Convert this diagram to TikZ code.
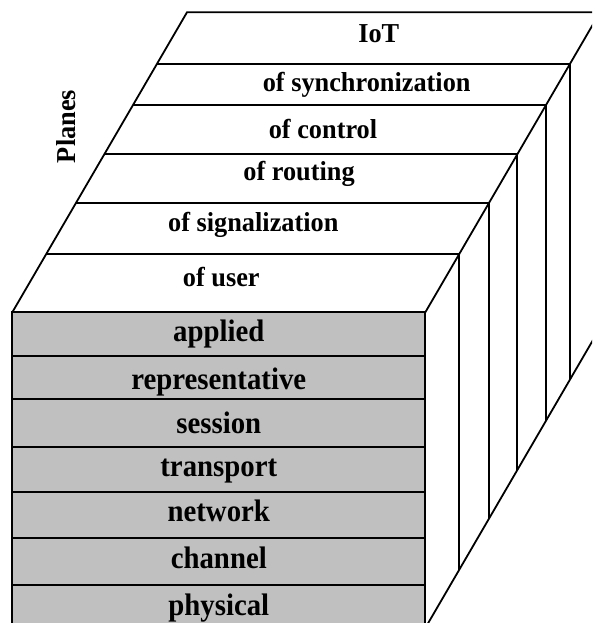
\documentclass[tikz,border=0pt]{standalone}
\usepackage{fontspec}
\setmainfont{Liberation Serif}
\definecolor{facegray}{RGB}{192,192,192}
\newcommand{\toptxt}[1]{\scalebox{1}[1.04]{#1}}
\newcommand{\fronttxt}[1]{\scalebox{1}[1.08]{#1}}
\begin{document}
\begin{tikzpicture}[x=1pt,y=-1pt,
  edge/.style={line width=1.8pt, line join=miter, line cap=butt},
  toplabel/.style={font=\fontsize{26.3}{26.3}\selectfont\bfseries, anchor=base, inner sep=0pt},
  frontlabel/.style={font=\fontsize{28.8}{28.8}\selectfont\bfseries, anchor=base, inner sep=0pt}]
\useasboundingbox (0,0) rectangle (592,623);
\fill[white] (0,0) rectangle (592,623);
\clip (0,0) rectangle (592,623);
% front face corners
\coordinate (FTL) at (12.3,312.3);
\coordinate (FTR) at (425.3,312.3);
\coordinate (FBL) at (12.3,628);
\coordinate (FBR) at (425.3,628);
% back corners
\coordinate (BTL) at (187,12.3);
\coordinate (BTR) at (600,12.3);
\coordinate (BBR) at (600,328);
% plane lines on top face (left, right) and bottom of verticals
\coordinate (L1) at (46.2,254);   \coordinate (R1) at (459.2,254);   \coordinate (V1) at (459.2,569.7);
\coordinate (L2) at (76.1,202.7); \coordinate (R2) at (489.1,202.7); \coordinate (V2) at (489.1,518.4);
\coordinate (L3) at (104.3,154.3);\coordinate (R3) at (517.3,154.3); \coordinate (V3) at (517.3,470);
\coordinate (L4) at (132.8,105.3);\coordinate (R4) at (545.8,105.3); \coordinate (V4) at (545.8,421);
\coordinate (L5) at (156.9,64);   \coordinate (R5) at (569.9,64);    \coordinate (V5) at (569.9,379.7);
% front layer separators
\coordinate (S1l) at (12.3,355.7); \coordinate (S1r) at (425.3,355.7);
\coordinate (S2l) at (12.3,398.7); \coordinate (S2r) at (425.3,398.7);
\coordinate (S3l) at (12.3,447);   \coordinate (S3r) at (425.3,447);
\coordinate (S4l) at (12.3,492.3); \coordinate (S4r) at (425.3,492.3);
\coordinate (S5l) at (12.3,538);   \coordinate (S5r) at (425.3,538);
\coordinate (S6l) at (12.3,585);   \coordinate (S6r) at (425.3,585);

\fill[facegray] (FTL) rectangle (FBR);
\draw[edge] (FTL) rectangle (FBR);
\foreach \i in {1,...,6} \draw[edge] (S\i l) -- (S\i r);
% top face
\draw[edge] (FTL) -- (BTL) -- (BTR);
\draw[edge] (FTR) -- (BTR);
\foreach \i in {1,...,5} \draw[edge] (L\i) -- (R\i);
% right face
\draw[edge] (FBR) -- (BBR) -- (BTR);
\foreach \i in {1,...,5} \draw[edge] (R\i) -- (V\i);

% labels on planes
\node[toplabel] (iot) at (378.8,42.5) {\toptxt{IoT}};
\node[toplabel] (sync) at (366.7,91.5) {\toptxt{of synchronization}};
\node[toplabel] (ctrl) at (323,139) {\toptxt{of control}};
\node[toplabel] (rout) at (299,180) {\toptxt{of routing}};
\node[toplabel] (sign) at (253.3,231.5) {\toptxt{of signalization}};
\node[toplabel] (user) at (221.3,286.7) {\toptxt{of user}};
\node[toplabel, rotate=90] (planes) at (75,126.5) {\toptxt{Planes}};

% front layers
\node[frontlabel] (app) at (218.8,341.3) {\fronttxt{applied}};
\node[frontlabel] (rep) at (218.8,389.3) {\fronttxt{representative}};
\node[frontlabel] (ses) at (218.8,433.3) {\fronttxt{session}};
\node[frontlabel] (tra) at (218.8,476.7) {\fronttxt{transport}};
\node[frontlabel] (net) at (218.8,521.7) {\fronttxt{network}};
\node[frontlabel] (cha) at (218.8,568.3) {\fronttxt{channel}};
\node[frontlabel] (phy) at (218.8,615) {\fronttxt{physical}};
\end{tikzpicture}
\end{document}
